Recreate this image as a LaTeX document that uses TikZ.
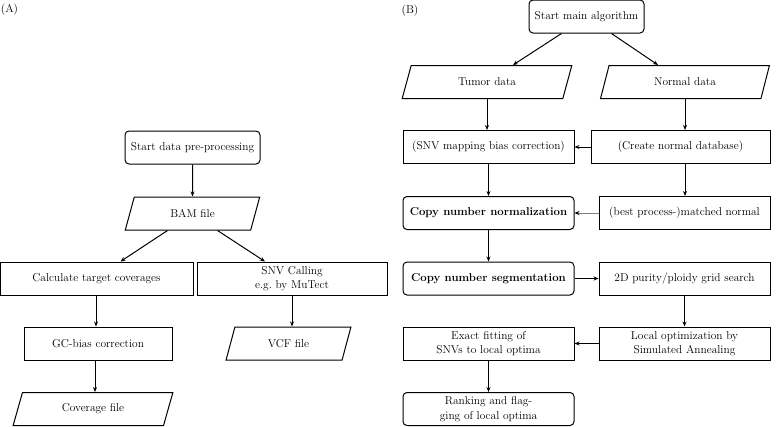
\documentclass[tikz,border=0pt]{standalone}
\usetikzlibrary{shapes.geometric,arrows.meta}
\begin{document}
\begin{tikzpicture}[x=1pt,y=-1pt,
  base/.style={draw, line width=1pt, inner sep=2pt, align=center, font=\fontsize{11.4}{14.5}\selectfont},
  rbox/.style={base, rectangle, rounded corners=4pt},
  pbox/.style={base, rectangle},
  iobox/.style={base, trapezium, trapezium left angle=73, trapezium right angle=107, trapezium stretches=true},
  arr/.style={line width=1pt, -{Stealth[length=5pt,width=4pt]}},
  garr/.style={line width=1pt, draw=gray, -{Stealth[length=5pt,width=4pt,black]}},
  lab/.style={font=\fontsize{11.4}{13}\selectfont, inner sep=0pt},
  boldf/.style={font=\bfseries\fontsize{11.4}{14.5}\selectfont}
]
\useasboundingbox (0,0) rectangle (779,426);
% Panel labels
\node[lab] (A) at (9.5,10) {(A)};
\node[lab] (B) at (410,11) {(B)};

% Panel A
\node[rbox, minimum width=135pt, minimum height=33pt] (startA) at (192.5,147.5) {Start data pre-processing};
\node[iobox, minimum width=135pt, minimum height=33pt] (bam) at (192.5,213.5) {BAM file};
\node[pbox, minimum width=193pt, minimum height=33pt] (calc) at (96.5,278.5) {Calculate target coverages};
\node[pbox, minimum width=190pt, minimum height=33pt] (snvcall) at (292,278.5) {SNV Calling\\e.g.\ by MuTect};
\node[pbox, minimum width=148pt, minimum height=33pt] (gc) at (98,343.5) {GC-bias correction};
\node[iobox, minimum width=125pt, minimum height=33pt] (vcf) at (288.5,343.5) {VCF file};
\node[iobox, minimum width=160pt, minimum height=33pt] (cov) at (93,409) {Coverage file};

\draw[arr] (startA.south) -- (bam.north);
\draw[arr] ([xshift=-25pt]bam.south) -- ([xshift=24pt]calc.north);
\draw[arr] ([xshift=25pt]bam.south) -- ([xshift=-27pt]snvcall.north);
\draw[arr] ([xshift=-2pt]gc.north |- calc.south) -- ([xshift=-2pt]gc.north);
\draw[arr] ([xshift=-3pt]gc.south) -- ([xshift=-3pt]gc.south |- cov.north);
\draw[arr] (snvcall.south) -- (snvcall.south |- vcf.north);

% Panel B
\node[rbox, minimum width=115pt, minimum height=33pt] (startB) at (586.5,16.5) {Start main algorithm};
\node[iobox, minimum width=170pt, minimum height=33pt] (tumor) at (487,82) {Tumor data};
\node[iobox, minimum width=170pt, minimum height=33pt] (normal) at (685,82) {Normal data};
\node[pbox, minimum width=171pt, minimum height=33pt] (snvmap) at (488.5,147) {(SNV mapping bias correction)};
\node[pbox, minimum width=179pt, minimum height=33pt] (createdb) at (680.5,147) {(Create normal database)};
\node[rbox, boldf, minimum width=171pt, minimum height=33pt] (cnnorm) at (488.5,213) {Copy number normalization};
\node[pbox, minimum width=171pt, minimum height=33pt] (matched) at (684.5,213) {(best process-)matched normal};
\node[rbox, boldf, minimum width=171pt, minimum height=33pt] (cnseg) at (488.5,278.5) {Copy number segmentation};
\node[pbox, minimum width=171pt, minimum height=33pt] (grid) at (684.5,278.5) {2D purity/ploidy grid search};
\node[pbox, minimum width=171pt, minimum height=33pt] (exact) at (488.5,343.5) {Exact fitting of\\SNVs to local optima};
\node[pbox, minimum width=171pt, minimum height=33pt] (localopt) at (684.5,343.5) {Local optimization by\\Simulated Annealing};
\node[rbox, minimum width=171pt, minimum height=33pt] (rank) at (488.5,409) {Ranking and flag-\\ging of local optima};

\draw[arr] ([xshift=-25pt]startB.south) -- ([xshift=26pt]tumor.north);
\draw[arr] ([xshift=25pt]startB.south) -- ([xshift=-27pt]normal.north);
\draw[arr] (tumor.south) -- (tumor.south |- snvmap.north);
\draw[arr] (normal.south) -- (normal.south |- createdb.north);
\draw[arr] (createdb.west) -- (snvmap.east);
\draw[arr] (snvmap.south) -- (cnnorm.north);
\draw[arr] (normal.south |- createdb.south) -- (normal.south |- matched.north);
\draw[garr] (matched.west) -- (cnnorm.east);
\draw[arr] (cnnorm.south) -- (cnseg.north);
\draw[arr] (cnseg.east) -- (grid.west);
\draw[arr] (grid.south) -- (localopt.north);
\draw[arr] (localopt.west) -- (exact.east);
\draw[arr] (exact.south) -- (rank.north);
\end{tikzpicture}
\end{document}
